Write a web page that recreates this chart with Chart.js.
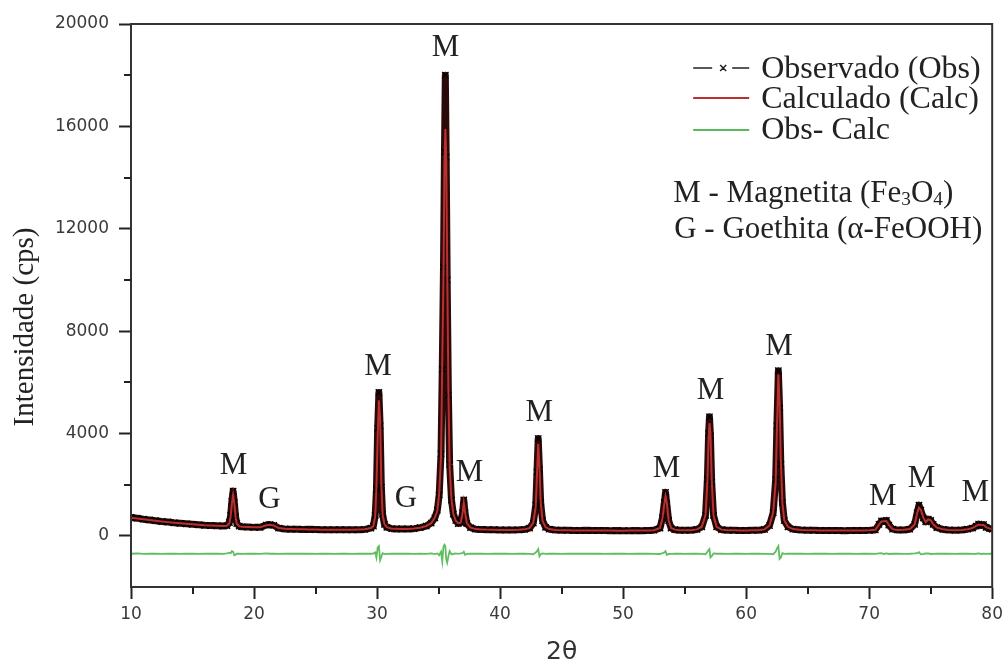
<!DOCTYPE html>
<html>
<head>
<meta charset="utf-8">
<script src="https://cdn.jsdelivr.net/npm/chart.js@4.4.1/dist/chart.umd.min.js"></script>
<style>
  html, body { margin: 0; padding: 0; background: #fff; }
  canvas { display: block; }
</style>
</head>
<body>
<canvas id="xrd" width="1008" height="665"></canvas>
<script>
// 2-theta positions (deg)
const twoTheta = [
  10.0, 10.5, 11.0, 11.5, 12.0, 12.5, 13.0, 13.5, 14.0, 14.5, 15.0, 15.5, 16.0, 16.5, 17.0, 17.5,
  17.8, 18.0, 18.1, 18.2, 18.3, 18.4, 18.5, 18.6, 18.8, 19.0, 19.5, 20.0, 20.5, 21.0, 21.3, 21.6,
  22.0, 22.5, 23.0, 23.5, 24.0, 24.5, 25.0, 25.5, 26.0, 26.5, 27.0, 27.5, 28.0, 28.5, 29.0, 29.5,
  29.7, 29.85, 29.95, 30.05, 30.15, 30.25, 30.35, 30.45, 30.6, 30.8, 31.2, 31.6, 32.0, 32.5, 33.0, 33.5,
  34.0, 34.4, 34.7, 34.9, 35.05, 35.2, 35.3, 35.4, 35.48, 35.55, 35.62, 35.7, 35.8, 35.9, 36.05, 36.2,
  36.4, 36.6, 36.8, 36.95, 37.05, 37.15, 37.3, 37.6, 38.0, 38.5, 39.0, 39.5, 40.0, 40.5, 41.0, 41.5,
  42.0, 42.4, 42.7, 42.9, 43.0, 43.1, 43.2, 43.3, 43.45, 43.7, 44.0, 44.5, 45.0, 45.5, 46.0, 46.5,
  47.0, 47.5, 48.0, 48.5, 49.0, 49.5, 50.0, 50.5, 51.0, 51.5, 52.0, 52.5, 53.0, 53.2, 53.35, 53.45,
  53.55, 53.7, 53.9, 54.2, 54.6, 55.0, 55.5, 56.0, 56.4, 56.7, 56.85, 56.95, 57.02, 57.1, 57.2, 57.35,
  57.6, 58.0, 58.5, 59.0, 59.5, 60.0, 60.5, 61.0, 61.5, 61.9, 62.2, 62.4, 62.5, 62.62, 62.72, 62.82,
  62.95, 63.1, 63.4, 63.8, 64.5, 65.0, 65.5, 66.0, 66.5, 67.0, 67.5, 68.0, 68.5, 69.0, 69.5, 70.0,
  70.5, 70.8, 71.0, 71.2, 71.4, 71.6, 71.9, 72.3, 72.8, 73.3, 73.7, 73.9, 74.05, 74.2, 74.4, 74.6,
  74.8, 75.0, 75.2, 75.5, 76.0, 76.5, 77.0, 77.5, 78.0, 78.4, 78.7, 78.9, 79.1, 79.3, 79.5, 79.8,
  80.0
];

// observed intensity (cps)
const obsCps = [
  720, 690, 650, 620, 590, 560, 540, 510, 490, 470, 450, 430, 410, 400, 390, 380,
  400, 520, 800, 1350, 1750, 1300, 750, 480, 380, 350, 340, 330, 330, 420, 440, 410,
  300, 270, 260, 260, 250, 255, 245, 240, 240, 235, 240, 235, 235, 240, 250, 300,
  380, 800, 1800, 4200, 5600, 4300, 1900, 850, 450, 330, 280, 270, 270, 270, 280, 320,
  380, 500, 700, 1000, 1600, 3200, 6500, 10500, 15000, 18000, 14800, 10000, 5500, 2800, 1400, 850,
  600, 480, 520, 900, 1400, 900, 480, 320, 260, 250, 240, 240, 230, 230, 230, 235,
  250, 300, 500, 1200, 2500, 3800, 2600, 1300, 600, 330, 260, 230, 220, 215, 210, 210,
  215, 210, 205, 205, 200, 205, 200, 200, 205, 200, 210, 220, 300, 700, 1300, 1700,
  1250, 600, 300, 240, 220, 215, 220, 250, 350, 800, 2200, 4000, 4650, 3900, 2100, 800,
  350, 240, 220, 215, 210, 210, 215, 220, 250, 400, 900, 2200, 4300, 6450, 5000, 2800,
  1300, 600, 350, 260, 230, 220, 215, 210, 210, 205, 205, 200, 205, 210, 210, 215,
  230, 450, 580, 560, 600, 420, 260, 230, 230, 260, 450, 900, 1200, 1000, 700, 550,
  650, 600, 450, 320, 250, 230, 220, 230, 260, 300, 380, 460, 400, 440, 330, 280,
  260
];

// calculated (Rietveld fit) intensity (cps)
const calcCps = [
  705, 680, 648, 615, 588, 562, 535, 512, 490, 470, 452, 432, 413, 400, 390, 383,
  395, 500, 770, 1260, 1600, 1260, 730, 470, 378, 350, 340, 330, 335, 410, 435, 405,
  305, 272, 262, 256, 252, 250, 246, 242, 240, 238, 237, 238, 240, 245, 255, 305,
  385, 760, 1900, 3900, 5300, 4500, 2000, 830, 460, 335, 280, 272, 268, 270, 283, 318,
  385, 495, 710, 990, 1650, 3100, 6800, 10200, 14600, 15900, 14900, 10600, 5700, 2700, 1420, 860,
  590, 490, 510, 870, 1300, 930, 490, 322, 262, 250, 242, 238, 232, 230, 232, 236,
  252, 305, 520, 1150, 2400, 3600, 2700, 1320, 590, 335, 262, 232, 222, 216, 212, 210,
  210, 210, 207, 205, 203, 202, 202, 203, 205, 206, 210, 222, 310, 680, 1250, 1550,
  1300, 610, 305, 242, 222, 217, 220, 252, 355, 820, 2100, 3850, 4400, 4050, 2200, 790,
  352, 242, 222, 215, 212, 210, 214, 222, 252, 405, 920, 2100, 4100, 6300, 5200, 2950,
  1280, 605, 352, 262, 232, 220, 216, 212, 210, 207, 205, 203, 204, 208, 212, 217,
  235, 440, 560, 570, 580, 430, 262, 232, 234, 262, 440, 880, 1100, 1020, 710, 540,
  640, 610, 455, 322, 252, 232, 222, 230, 258, 305, 385, 440, 410, 430, 335, 282,
  262
];

// difference curve Obs - Calc, plotted with offset (cps)
const diffCps = [
  -700, -690, -705, -700, -695, -705, -700, -700, -705, -695, -700, -705, -700, -695, -700, -705,
  -690, -660, -680, -600, -620, -760, -740, -700, -700, -705, -700, -700, -705, -690, -700, -695,
  -705, -700, -700, -695, -700, -700, -705, -700, -700, -705, -700, -700, -705, -700, -700, -700,
  -695, -650, -850, -450, -400, -950, -820, -680, -715, -705, -700, -700, -700, -700, -705, -700,
  -705, -690, -715, -690, -760, -620, -1000, -420, -350, -400, -900, -1050, -800, -600, -720, -710,
  -690, -705, -690, -680, -620, -740, -705, -700, -700, -700, -705, -700, -700, -700, -705, -700,
  -700, -705, -720, -650, -600, -520, -800, -720, -690, -705, -700, -700, -705, -700, -700, -700,
  -695, -700, -700, -705, -700, -700, -700, -705, -700, -700, -700, -705, -710, -680, -650, -600,
  -750, -710, -705, -700, -700, -705, -700, -700, -705, -720, -620, -560, -520, -850, -800, -690,
  -700, -700, -705, -700, -700, -705, -700, -700, -705, -705, -720, -620, -500, -400, -900, -850,
  -680, -705, -700, -700, -700, -705, -700, -700, -700, -705, -700, -700, -700, -705, -700, -700,
  -705, -690, -680, -710, -690, -710, -700, -700, -705, -700, -690, -680, -640, -720, -710, -690,
  -690, -710, -705, -700, -700, -700, -705, -700, -700, -705, -700, -690, -710, -695, -705, -700,
  -700
];

const xTickValues = [10, 20, 30, 40, 50, 60, 70, 80];
const xMinorTicks = [15, 25, 35, 45, 55, 65, 75];
const yTickValues = [0, 4000, 8000, 12000, 16000, 20000];
const yMinorTicks = [2000, 6000, 10000, 14000, 18000];

// phase labels above the peaks (text, 2theta, cps)
const peakLabels = ['M', 'G', 'M', 'G', 'M', 'M', 'M', 'M', 'M', 'M', 'M', 'M', 'M'];
const peakLabelX = [18.34, 21.25, 30.07, 32.34, 35.57, 37.51, 43.18, 53.54, 57.1, 62.68, 71.1, 74.25, 78.62];
const peakLabelY = [2800, 1500, 6680, 1520, 19140, 2530, 4880, 2690, 5740, 7460, 1600, 2300, 1750];

const toPoints = (ys) => twoTheta.map((t, i) => ({ x: t, y: ys[i] }));

const serif = '"Liberation Serif", "Times New Roman", serif';
const sans = '"DejaVu Sans", Arial, sans-serif';

// draws text runs, subscripts smaller and lowered
function drawRuns(ctx, runs, x, y, size) {
  ctx.textBaseline = 'alphabetic';
  ctx.textAlign = 'left';
  for (const r of runs) {
    const s = r.sub ? size * 0.62 : size;
    ctx.font = s + 'px ' + serif;
    ctx.fillText(r.t, x, y + (r.sub ? size * 0.1 : 0));
    x += ctx.measureText(r.t).width;
  }
}

const decorations = {
  id: 'decorations',
  afterDraw(chart) {
    const { ctx, chartArea: a, scales: { x, y } } = chart;
    ctx.save();

    // box frame
    ctx.strokeStyle = '#333';
    ctx.lineWidth = 2;
    ctx.strokeRect(a.left, a.top, a.right - a.left, a.bottom - a.top);

    // minor ticks
    ctx.strokeStyle = '#222';
    ctx.lineWidth = 2;
    ctx.beginPath();
    for (const v of xMinorTicks) {
      const px = Math.round(x.getPixelForValue(v));
      ctx.moveTo(px, a.bottom);
      ctx.lineTo(px, a.bottom + 7);
    }
    for (const v of yMinorTicks) {
      const py = Math.round(y.getPixelForValue(v));
      ctx.moveTo(a.left, py);
      ctx.lineTo(a.left - 7, py);
    }
    ctx.stroke();

    // peak labels
    ctx.fillStyle = '#222';
    ctx.font = '31px ' + serif;
    ctx.textAlign = 'center';
    ctx.textBaseline = 'middle';
    peakLabels.forEach((t, i) => {
      ctx.fillText(t, x.getPixelForValue(peakLabelX[i]), y.getPixelForValue(peakLabelY[i]) + 2);
    });

    // y axis title
    ctx.save();
    ctx.translate(25, 327);
    ctx.rotate(-Math.PI / 2);
    ctx.font = '29px ' + serif;
    ctx.fillText('Intensidade (cps)', 0, 0);
    ctx.restore();

    // legend
    const lx = a.right - 299;
    const tx = a.right - 231;
    ctx.lineWidth = 1.5;
    ctx.strokeStyle = '#222';
    ctx.beginPath();
    ctx.moveTo(lx, 68); ctx.lineTo(lx + 19, 68);
    ctx.moveTo(lx + 39, 68); ctx.lineTo(lx + 56, 68);
    ctx.moveTo(lx + 27, 65); ctx.lineTo(lx + 33, 71);
    ctx.moveTo(lx + 33, 65); ctx.lineTo(lx + 27, 71);
    ctx.stroke();
    ctx.lineWidth = 2;
    ctx.strokeStyle = '#b8312f';
    ctx.beginPath(); ctx.moveTo(lx, 98); ctx.lineTo(lx + 56, 98); ctx.stroke();
    ctx.strokeStyle = '#5cb85c';
    ctx.beginPath(); ctx.moveTo(lx, 130); ctx.lineTo(lx + 56, 130); ctx.stroke();

    ctx.fillStyle = '#222';
    drawRuns(ctx, [{ t: 'Observado (Obs)' }], tx, 78, 32);
    drawRuns(ctx, [{ t: 'Calculado (Calc)' }], tx, 108, 32);
    drawRuns(ctx, [{ t: 'Obs- Calc' }], tx, 139, 32);
    drawRuns(ctx, [{ t: 'M - Magnetita (Fe' }, { t: '3', sub: true }, { t: 'O' }, { t: '4', sub: true }, { t: ')' }], a.right - 319, 202, 31);
    drawRuns(ctx, [{ t: 'G - Goethita (α-FeOOH)' }], a.right - 318, 238, 31);

    ctx.restore();
  }
};

const ctx = document.getElementById('xrd').getContext('2d');
new Chart(ctx, {
  type: 'line',
  data: {
    datasets: [
      {
        label: 'Obs- Calc',
        data: toPoints(diffCps),
        borderColor: '#5fbf5f',
        borderWidth: 1.8,
        pointRadius: 0,
        order: 3
      },
      {
        label: 'Observado (Obs)',
        data: toPoints(obsCps),
        borderColor: '#2b0909',
        borderWidth: 7,
        borderJoinStyle: 'round',
        pointStyle: 'crossRot',
        pointRadius: 4.5,
        pointBorderColor: '#000',
        pointBorderWidth: 1.3,
        order: 2
      },
      {
        label: 'Calculado (Calc)',
        data: toPoints(calcCps),
        borderColor: '#b8312f',
        borderWidth: 2,
        pointRadius: 0,
        order: 1
      }
    ]
  },
  options: {
    responsive: false,
    animation: false,
    layout: { padding: { top: 24, right: 12, left: 0, bottom: 0 } },
    plugins: {
      legend: { display: false },
      tooltip: { enabled: false }
    },
    scales: {
      x: {
        type: 'linear',
        min: 10,
        max: 80,
        afterBuildTicks: (s) => { s.ticks = xTickValues.map(v => ({ value: v })); },
        afterFit: (s) => { s.height = 78; },
        grid: { drawOnChartArea: false, tickLength: 12, tickColor: '#222', tickWidth: 2 },
        border: { color: '#222', width: 2 },
        ticks: { color: '#3a3a3a', font: { family: sans, size: 17 }, padding: 5, maxRotation: 0, callback: (v) => String(v) },
        title: { display: true, text: '2θ', color: '#333', font: { family: sans, size: 25, lineHeight: 1 }, padding: { top: 0, bottom: 0 } }
      },
      y: {
        min: -2000,
        max: 20000,
        afterBuildTicks: (s) => { s.ticks = yTickValues.map(v => ({ value: v })); },
        afterFit: (s) => { s.width = 131; },
        grid: { drawOnChartArea: false, tickLength: 12, tickColor: '#222', tickWidth: 2 },
        border: { color: '#222', width: 2 },
        ticks: { color: '#3a3a3a', font: { family: sans, size: 17 }, padding: 10, callback: (v) => String(v) }
      }
    }
  },
  plugins: [decorations]
});
</script>
</body>
</html>
